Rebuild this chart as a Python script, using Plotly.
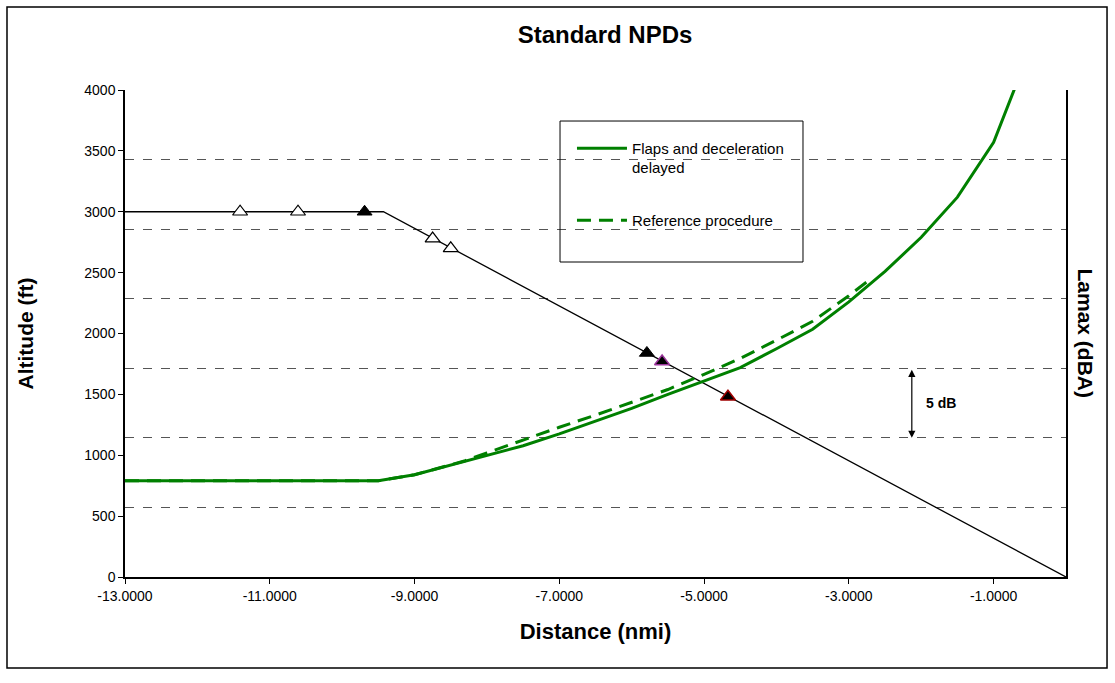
import plotly.graph_objects as go

# ---- data ----
path_x = [-13.0, -9.43, 0.0]
path_y = [3000, 3000, 0]

flaps_x = [-13.0, -9.5, -9.0, -8.5, -8.0, -7.5, -7.0, -6.5, -6.0, -5.5, -5.0,
           -4.5, -4.0, -3.5, -3.0, -2.5, -2.0, -1.5, -1.0, -0.5]
flaps_y = [790, 790, 840, 920, 1000, 1078, 1175, 1280, 1385, 1500, 1610,
           1720, 1875, 2035, 2260, 2510, 2790, 3120, 3570, 4330]

ref_x = [-13.0, -9.5, -9.0, -8.5, -8.3, -8.0, -7.5, -7.0, -6.5, -6.0, -5.5,
         -5.0, -4.5, -4.0, -3.5, -3.0, -2.75]
ref_y = [790, 790, 840, 920, 955, 1020, 1126, 1230, 1330, 1435, 1540,
         1665, 1795, 1945, 2100, 2310, 2425]

open_x = [-11.41, -10.61, -8.75, -8.50]
open_y = [3000, 3000, 2780, 2700]
filled_x = [-9.69, -5.79]
filled_y = [3000, 1840]
purple_x = [-5.58]
purple_y = [1770]
red_x = [-4.67]
red_y = [1480]

x_ticks = [-13, -11, -9, -7, -5, -3, -1]
x_tick_labels = [f"{v:.4f}" for v in x_ticks]
y_ticks = [0, 500, 1000, 1500, 2000, 2500, 3000, 3500, 4000]
db_range = [60, 95]
arrow_db = [70, 75]
arrow_x = -2.13

FONT = "Arial, Liberation Sans, sans-serif"
GREEN = "#008000"

fig = go.Figure()

fig.add_trace(go.Scatter(x=path_x, y=path_y, mode="lines",
                         line=dict(color="black", width=1.3),
                         showlegend=False, hoverinfo="skip"))

fig.add_trace(go.Scatter(x=ref_x, y=ref_y, mode="lines", name="Reference procedure",
                         line=dict(color=GREEN, width=3, dash="14px,8px"),
                         legendgroup="b", legendrank=2))
fig.add_trace(go.Scatter(x=flaps_x, y=flaps_y, mode="lines",
                         name="Flaps and deceleration<br>delayed",
                         line=dict(color=GREEN, width=3),
                         legendgroup="a", legendrank=1))

tri = "triangle-up"
MS = 13
fig.add_trace(go.Scatter(x=open_x, y=open_y, mode="markers", showlegend=False,
                         marker=dict(symbol=tri, size=MS, color="white",
                                     line=dict(color="black", width=1.2))))
fig.add_trace(go.Scatter(x=filled_x, y=filled_y, mode="markers", showlegend=False,
                         marker=dict(symbol=tri, size=MS, color="black",
                                     line=dict(color="black", width=1))))
fig.add_trace(go.Scatter(x=purple_x, y=purple_y, mode="markers", showlegend=False,
                         marker=dict(symbol=tri, size=MS, color="black",
                                     line=dict(color="#993399", width=1.5))))
fig.add_trace(go.Scatter(x=red_x, y=red_y, mode="markers", showlegend=False,
                         marker=dict(symbol=tri, size=MS, color="black",
                                     line=dict(color="#A00000", width=1.5))))

# dummy trace to activate secondary axis
fig.add_trace(go.Scatter(x=[None], y=[None], yaxis="y2", showlegend=False,
                         hoverinfo="skip"))

fig.update_layout(
    width=1115, height=683,
    margin=dict(l=125, r=49, t=90, b=106),
    paper_bgcolor="white", plot_bgcolor="white",
    font=dict(family=FONT, color="black", size=14),
    title=dict(text="<b>Standard NPDs</b>", x=0.5426, xanchor="center",
               y=0.949, yanchor="middle", font=dict(size=24)),
    xaxis=dict(range=[-13, 0], tickvals=x_ticks, ticktext=x_tick_labels,
               ticks="outside", ticklen=5, tickcolor="black",
               showline=True, linecolor="black", linewidth=1.5,
               showgrid=False, zeroline=False, tickfont=dict(size=14),
               title=dict(text="<b>Distance (nmi)</b>", font=dict(size=22),
                          standoff=21)),
    yaxis=dict(range=[0, 4000], tickvals=y_ticks, ticks="outside", ticklen=5,
               tickcolor="black", showline=True, linecolor="black", linewidth=1.5,
               showgrid=False, zeroline=False, tickfont=dict(size=14),
               title=dict(text="<b>Altitude (ft)</b>", font=dict(size=21),
                          standoff=45)),
    yaxis2=dict(range=db_range, dtick=5, overlaying="y", side="right",
                showticklabels=False, ticks="", showgrid=True,
                gridcolor="#555555", griddash="dash", gridwidth=1,
                showline=True, linecolor="black", linewidth=1.5,
                zeroline=False),
    legend=dict(x=0.475, y=0.914, xanchor="left", yanchor="top",
                bgcolor="rgba(0,0,0,0)", borderwidth=0, valign="top",
                font=dict(size=15), tracegroupgap=30,
                traceorder="grouped", itemwidth=50),
    showlegend=True,
)

# legend frame and outer chart frame
fig.add_shape(type="rect", xref="paper", yref="paper",
              x0=0.4623, x1=0.7205, y0=0.6468, y1=0.9363,
              line=dict(color="black", width=1), fillcolor="rgba(0,0,0,0)")
fig.add_shape(type="rect", xref="paper", yref="paper",
              x0=-0.1254, x1=1.0436, y0=-0.1869, y1=1.1704,
              line=dict(color="black", width=1.5), fillcolor="rgba(0,0,0,0)")

# 5 dB arrow
fig.add_annotation(x=arrow_x, y=arrow_db[0], xref="x", yref="y2",
                   ax=arrow_x, ay=arrow_db[1], axref="x", ayref="y2",
                   showarrow=True, arrowhead=2, arrowside="end+start",
                   arrowsize=1.2, arrowwidth=1.2, arrowcolor="black", text="")
fig.add_annotation(x=arrow_x, y=sum(arrow_db) / 2, xref="x", yref="y2",
                   text="<b>5 dB</b>", showarrow=False, xanchor="left",
                   xshift=12, font=dict(size=14))

fig.add_annotation(x=1.0202, y=0.5, xref="paper", yref="paper",
                   text="<b>Lamax (dBA)</b>", textangle=90, showarrow=False,
                   xanchor="center", font=dict(size=21))

fig.write_html("out.html")
